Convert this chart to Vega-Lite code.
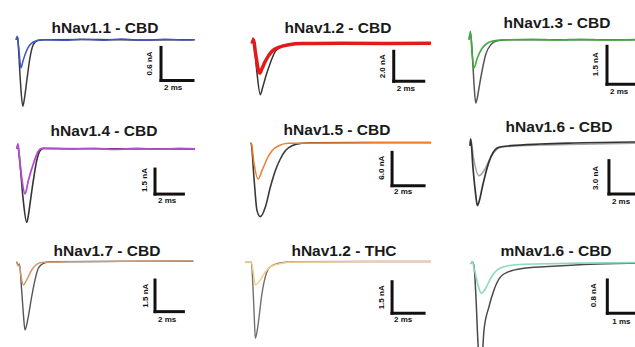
{
"$schema":"https://vega.github.io/schema/vega-lite/v6.json",
"padding":{"left":0,"top":15,"right":0,"bottom":0},
"background":"white",
"bounds":"flush",
"columns":3,
"spacing":{"row":18,"column":0},
"config":{"view":{"stroke":null},"title":{"font":"Liberation Sans","fontSize":15.5,"fontWeight":"bold","color":"#1a1a1a","offset":-3,"frame":"group","anchor":"middle"},"text":{"font":"Liberation Sans","fontSize":8,"fontWeight":"bold","color":"#111"}},
"datasets":{
"bars":[
{"panel":"p1","t0":9.0,"t1":11.0,"i0":-0.14,"i1":-0.74,"xlabel":"2 ms","ylabel":"0.6 nA"},
{"panel":"p2","t0":9.45,"t1":11.45,"i0":-0.52,"i1":-2.52,"xlabel":"2 ms","ylabel":"2.0 nA"},
{"panel":"p3","t0":8.625,"t1":10.625,"i0":-0.26,"i1":-1.76,"xlabel":"2 ms","ylabel":"1.5 nA"},
{"panel":"p4","t0":9.74,"t1":11.74,"i0":-1.2,"i1":-2.7,"xlabel":"2 ms","ylabel":"1.5 nA"},
{"panel":"p5","t0":8.86,"t1":10.86,"i0":-1.67,"i1":-7.67,"xlabel":"2 ms","ylabel":"6.0 nA"},
{"panel":"p6","t0":8.64,"t1":10.64,"i0":-1.59,"i1":-4.59,"xlabel":"2 ms","ylabel":"3.0 nA"},
{"panel":"p7","t0":9.74,"t1":11.74,"i0":-0.87,"i1":-2.37,"xlabel":"2 ms","ylabel":"1.5 nA"},
{"panel":"p8","t0":8.96,"t1":10.96,"i0":-0.95,"i1":-2.45,"xlabel":"2 ms","ylabel":"1.5 nA"},
{"panel":"p9","t0":4.22,"t1":5.22,"i0":-0.385,"i1":-1.185,"xlabel":"1 ms","ylabel":"0.8 nA"}
],
"traces":[
{"panel":"p1","series":"control","t":-0.06,"i":0},{"panel":"p1","series":"control","t":0.03,"i":0.06},{"panel":"p1","series":"control","t":0.09,"i":-0.15},{"panel":"p1","series":"control","t":0.22,"i":-0.79},{"panel":"p1","series":"control","t":0.36,"i":-1.21},{"panel":"p1","series":"control","t":0.47,"i":-1.06},{"panel":"p1","series":"control","t":0.61,"i":-0.75},{"panel":"p1","series":"control","t":0.81,"i":-0.33},{"panel":"p1","series":"control","t":1.02,"i":-0.09},{"panel":"p1","series":"control","t":1.31,"i":-0.01},{"panel":"p1","series":"control","t":1.75,"i":0},{"panel":"p1","series":"control","t":5,"i":0.005},{"panel":"p1","series":"control","t":8,"i":-0.005},{"panel":"p1","series":"control","t":11.1,"i":0},
{"panel":"p1","series":"drug","t":-0.06,"i":0},{"panel":"p1","series":"drug","t":0.03,"i":0.058},{"panel":"p1","series":"drug","t":0.11,"i":-0.15},{"panel":"p1","series":"drug","t":0.25,"i":-0.515},{"panel":"p1","series":"drug","t":0.375,"i":-0.387},{"panel":"p1","series":"drug","t":0.5,"i":-0.273},{"panel":"p1","series":"drug","t":0.81,"i":-0.091},{"panel":"p1","series":"drug","t":1.23,"i":-0.018},{"panel":"p1","series":"drug","t":1.75,"i":0},{"panel":"p1","series":"drug","t":3,"i":-0.012},{"panel":"p1","series":"drug","t":4,"i":0.01},{"panel":"p1","series":"drug","t":5.5,"i":-0.008},{"panel":"p1","series":"drug","t":6.5,"i":0.012},{"panel":"p1","series":"drug","t":8,"i":-0.01},{"panel":"p1","series":"drug","t":9.2,"i":0.01},{"panel":"p1","series":"drug","t":10.2,"i":-0.006},{"panel":"p1","series":"drug","t":11.1,"i":0},
{"panel":"p2","series":"control","t":0,"i":0},{"panel":"p2","series":"control","t":0.067,"i":0.37},{"panel":"p2","series":"control","t":0.167,"i":-0.3},{"panel":"p2","series":"control","t":0.333,"i":-1.97},{"panel":"p2","series":"control","t":0.553,"i":-3.41},{"panel":"p2","series":"control","t":0.7,"i":-2.97},{"panel":"p2","series":"control","t":0.887,"i":-2.3},{"panel":"p2","series":"control","t":1.22,"i":-1.3},{"panel":"p2","series":"control","t":1.553,"i":-0.52},{"panel":"p2","series":"control","t":2.0,"i":-0.187},{"panel":"p2","series":"control","t":2.667,"i":-0.033},{"panel":"p2","series":"control","t":3.667,"i":0},{"panel":"p2","series":"control","t":11.9,"i":0},
{"panel":"p2","series":"drug","t":0,"i":0},{"panel":"p2","series":"drug","t":0.1,"i":0.23},{"panel":"p2","series":"drug","t":0.233,"i":-0.633},{"panel":"p2","series":"drug","t":0.513,"i":-1.97},{"panel":"p2","series":"drug","t":0.667,"i":-1.667},{"panel":"p2","series":"drug","t":0.887,"i":-1.187},{"panel":"p2","series":"drug","t":1.333,"i":-0.52},{"panel":"p2","series":"drug","t":1.78,"i":-0.253},{"panel":"p2","series":"drug","t":2.447,"i":-0.08},{"panel":"p2","series":"drug","t":3.33,"i":0},{"panel":"p2","series":"drug","t":6,"i":0.01},{"panel":"p2","series":"drug","t":9,"i":0.0},{"panel":"p2","series":"drug","t":11.93,"i":0.01},
{"panel":"p3","series":"control","t":0,"i":0},{"panel":"p3","series":"control","t":0.106,"i":0.225},{"panel":"p3","series":"control","t":0.22,"i":-0.723},{"panel":"p3","series":"control","t":0.33,"i":-1.91},{"panel":"p3","series":"control","t":0.42,"i":-2.5},{"panel":"p3","series":"control","t":0.52,"i":-2.3},{"panel":"p3","series":"control","t":0.625,"i":-1.91},{"panel":"p3","series":"control","t":0.83,"i":-1.186},{"panel":"p3","series":"control","t":1.04,"i":-0.593},{"panel":"p3","series":"control","t":1.36,"i":-0.198},{"panel":"p3","series":"control","t":1.77,"i":-0.04},{"panel":"p3","series":"control","t":2.5,"i":0},{"panel":"p3","series":"control","t":10.9,"i":0},
{"panel":"p3","series":"drug","t":0,"i":0},{"panel":"p3","series":"drug","t":0.094,"i":0.33},{"panel":"p3","series":"drug","t":0.19,"i":-0.526},{"panel":"p3","series":"drug","t":0.31,"i":-1.12},{"panel":"p3","series":"drug","t":0.52,"i":-0.723},{"panel":"p3","series":"drug","t":0.83,"i":-0.328},{"panel":"p3","series":"drug","t":1.25,"i":-0.103},{"panel":"p3","series":"drug","t":1.77,"i":-0.024},{"panel":"p3","series":"drug","t":2.5,"i":0},{"panel":"p3","series":"drug","t":4,"i":0.015},{"panel":"p3","series":"drug","t":5.5,"i":-0.01},{"panel":"p3","series":"drug","t":7,"i":0.015},{"panel":"p3","series":"drug","t":8.5,"i":-0.01},{"panel":"p3","series":"drug","t":10.9,"i":0.01},
{"panel":"p4","series":"control","t":0,"i":0},{"panel":"p4","series":"control","t":0.09,"i":0.18},{"panel":"p4","series":"control","t":0.23,"i":-0.84},{"panel":"p4","series":"control","t":0.444,"i":-2.93},{"panel":"p4","series":"control","t":0.704,"i":-4.39},{"panel":"p4","series":"control","t":0.817,"i":-4.01},{"panel":"p4","series":"control","t":0.937,"i":-3.29},{"panel":"p4","series":"control","t":1.169,"i":-1.9},{"panel":"p4","series":"control","t":1.408,"i":-0.7},{"panel":"p4","series":"control","t":1.641,"i":-0.1},{"panel":"p4","series":"control","t":1.873,"i":0.04},{"panel":"p4","series":"control","t":2.345,"i":0.03},{"panel":"p4","series":"control","t":12.56,"i":0},
{"panel":"p4","series":"drug","t":0,"i":0},{"panel":"p4","series":"drug","t":0.09,"i":0.3},{"panel":"p4","series":"drug","t":0.197,"i":-0.54},{"panel":"p4","series":"drug","t":0.373,"i":-1.86},{"panel":"p4","series":"drug","t":0.585,"i":-2.69},{"panel":"p4","series":"drug","t":0.817,"i":-1.9},{"panel":"p4","series":"drug","t":1.169,"i":-0.9},{"panel":"p4","series":"drug","t":1.521,"i":-0.14},{"panel":"p4","series":"drug","t":1.761,"i":0.04},{"panel":"p4","series":"drug","t":2.345,"i":0.03},{"panel":"p4","series":"drug","t":4,"i":0},{"panel":"p4","series":"drug","t":5.5,"i":0.04},{"panel":"p4","series":"drug","t":7,"i":-0.02},{"panel":"p4","series":"drug","t":8.5,"i":0.03},{"panel":"p4","series":"drug","t":10,"i":-0.01},{"panel":"p4","series":"drug","t":11.5,"i":0.03},{"panel":"p4","series":"drug","t":12.56,"i":0},
{"panel":"p5","series":"control","t":0,"i":0},{"panel":"p5","series":"control","t":0.06,"i":-0.18},{"panel":"p5","series":"control","t":0.23,"i":-6.28},{"panel":"p5","series":"control","t":0.42,"i":-12.15},{"panel":"p5","series":"control","t":0.625,"i":-13.23},{"panel":"p5","series":"control","t":0.9375,"i":-11.54},{"panel":"p5","series":"control","t":1.25,"i":-7.95},{"panel":"p5","series":"control","t":1.5625,"i":-4.97},{"panel":"p5","series":"control","t":1.875,"i":-2.87},{"panel":"p5","series":"control","t":2.1875,"i":-1.38},{"panel":"p5","series":"control","t":2.606,"i":-0.485},{"panel":"p5","series":"control","t":3.23,"i":-0.054},{"panel":"p5","series":"control","t":3.856,"i":0.054},{"panel":"p5","series":"control","t":11.3,"i":0.09},
{"panel":"p5","series":"drug","t":0,"i":0},{"panel":"p5","series":"drug","t":0.075,"i":-0.18},{"panel":"p5","series":"drug","t":0.23,"i":-3.59},{"panel":"p5","series":"drug","t":0.48,"i":-6.46},{"panel":"p5","series":"drug","t":0.73,"i":-4.97},{"panel":"p5","series":"drug","t":1.04,"i":-2.87},{"panel":"p5","series":"drug","t":1.356,"i":-1.38},{"panel":"p5","series":"drug","t":1.775,"i":-0.485},{"panel":"p5","series":"drug","t":2.4,"i":-0.054},{"panel":"p5","series":"drug","t":11.3,"i":0.05},
{"panel":"p6","series":"control","t":-0.044,"i":-0.243},{"panel":"p6","series":"control","t":0,"i":0.36},{"panel":"p6","series":"control","t":0.144,"i":-2.25},{"panel":"p6","series":"control","t":0.3,"i":-4.5},{"panel":"p6","series":"control","t":0.4125,"i":-5.65},{"panel":"p6","series":"control","t":0.55,"i":-5.14},{"panel":"p6","series":"control","t":0.725,"i":-3.99},{"panel":"p6","series":"control","t":1.0375,"i":-2.19},{"panel":"p6","series":"control","t":1.35,"i":-0.99},{"panel":"p6","series":"control","t":1.77,"i":-0.387},{"panel":"p6","series":"control","t":2.5,"i":-0.243},{"panel":"p6","series":"control","t":4.375,"i":-0.09},{"panel":"p6","series":"control","t":6.456,"i":0},{"panel":"p6","series":"control","t":10.2,"i":0.09},{"panel":"p6","series":"control","t":10.8,"i":0.09},
{"panel":"p6","series":"drug","t":-0.044,"i":-0.243},{"panel":"p6","series":"drug","t":0,"i":0.36},{"panel":"p6","series":"drug","t":0.175,"i":-1.35},{"panel":"p6","series":"drug","t":0.52,"i":-2.95},{"panel":"p6","series":"drug","t":0.83,"i":-2.5},{"panel":"p6","series":"drug","t":1.144,"i":-1.59},{"panel":"p6","series":"drug","t":1.456,"i":-0.84},{"panel":"p6","series":"drug","t":1.875,"i":-0.387},{"panel":"p6","series":"drug","t":2.706,"i":-0.27},{"panel":"p6","series":"drug","t":5.394,"i":-0.153},{"panel":"p6","series":"drug","t":10.2,"i":-0.027},{"panel":"p6","series":"drug","t":10.8,"i":-0.02},
{"panel":"p7","series":"control","t":0,"i":0},{"panel":"p7","series":"control","t":0.113,"i":-0.156},{"panel":"p7","series":"control","t":0.197,"i":-0.109},{"panel":"p7","series":"control","t":0.338,"i":-1.246},{"panel":"p7","series":"control","t":0.465,"i":-2.43},{"panel":"p7","series":"control","t":0.585,"i":-3.24},{"panel":"p7","series":"control","t":0.704,"i":-3.0},{"panel":"p7","series":"control","t":0.817,"i":-2.61},{"panel":"p7","series":"control","t":1.056,"i":-1.66},{"panel":"p7","series":"control","t":1.289,"i":-0.867},{"panel":"p7","series":"control","t":1.521,"i":-0.313},{"panel":"p7","series":"control","t":1.873,"i":-0.076},{"panel":"p7","series":"control","t":2.345,"i":0},{"panel":"p7","series":"control","t":12.44,"i":0.033},
{"panel":"p7","series":"drug","t":0,"i":0},{"panel":"p7","series":"drug","t":0.113,"i":-0.204},{"panel":"p7","series":"drug","t":0.197,"i":-0.156},{"panel":"p7","series":"drug","t":0.303,"i":-0.678},{"panel":"p7","series":"drug","t":0.465,"i":-1.1},{"panel":"p7","series":"drug","t":0.704,"i":-0.867},{"panel":"p7","series":"drug","t":1.056,"i":-0.393},{"panel":"p7","series":"drug","t":1.408,"i":-0.123},{"panel":"p7","series":"drug","t":1.873,"i":-0.028},{"panel":"p7","series":"drug","t":12.44,"i":0.047},
{"panel":"p8","series":"control","t":-0.2125,"i":0},{"panel":"p8","series":"control","t":0.1625,"i":0},{"panel":"p8","series":"control","t":0.269,"i":-1.246},{"panel":"p8","series":"control","t":0.35,"i":-2.67},{"panel":"p8","series":"control","t":0.4125,"i":-3.63},{"panel":"p8","series":"control","t":0.506,"i":-3.38},{"panel":"p8","series":"control","t":0.625,"i":-2.76},{"panel":"p8","series":"control","t":0.83,"i":-1.5},{"panel":"p8","series":"control","t":1.04,"i":-0.71},{"panel":"p8","series":"control","t":1.35,"i":-0.237},{"panel":"p8","series":"control","t":1.875,"i":-0.076},{"panel":"p8","series":"control","t":2.706,"i":0},{"panel":"p8","series":"control","t":11.39,"i":0.01},
{"panel":"p8","series":"drug","t":-0.2125,"i":0},{"panel":"p8","series":"drug","t":0.1625,"i":0},{"panel":"p8","series":"drug","t":0.2875,"i":-0.536},{"panel":"p8","series":"drug","t":0.4125,"i":-1.1},{"panel":"p8","series":"drug","t":0.725,"i":-0.867},{"panel":"p8","series":"drug","t":1.04,"i":-0.474},{"panel":"p8","series":"drug","t":1.456,"i":-0.204},{"panel":"p8","series":"drug","t":2.08,"i":-0.076},{"panel":"p8","series":"drug","t":2.9125,"i":-0.014},{"panel":"p8","series":"drug","t":11.39,"i":0.01},
{"panel":"p9","series":"control","t":-0.04,"i":0},{"panel":"p9","series":"control","t":0,"i":0.055},{"panel":"p9","series":"control","t":0.053,"i":-0.048},{"panel":"p9","series":"control","t":0.116,"i":-0.817},{"panel":"p9","series":"control","t":0.178,"i":-1.9},{"panel":"p9","series":"control","t":0.256,"i":-2.45},{"panel":"p9","series":"control","t":0.319,"i":-2.14},{"panel":"p9","series":"control","t":0.366,"i":-1.587},{"panel":"p9","series":"control","t":0.522,"i":-1.026},{"panel":"p9","series":"control","t":0.678,"i":-0.625},{"panel":"p9","series":"control","t":0.8875,"i":-0.305},{"panel":"p9","series":"control","t":1.147,"i":-0.185},{"panel":"p9","series":"control","t":1.616,"i":-0.103},{"panel":"p9","series":"control","t":2.656,"i":-0.048},{"panel":"p9","series":"control","t":3.7,"i":-0.007},{"panel":"p9","series":"control","t":5.053,"i":0.017},{"panel":"p9","series":"control","t":5.3,"i":0.02},
{"panel":"p9","series":"drug","t":-0.04,"i":0},{"panel":"p9","series":"drug","t":0,"i":0.055},{"panel":"p9","series":"drug","t":0.069,"i":-0.144},{"panel":"p9","series":"drug","t":0.178,"i":-0.505},{"panel":"p9","series":"drug","t":0.281,"i":-0.704},{"panel":"p9","series":"drug","t":0.419,"i":-0.584},{"panel":"p9","series":"drug","t":0.575,"i":-0.344},{"panel":"p9","series":"drug","t":0.78,"i":-0.144},{"panel":"p9","series":"drug","t":1.094,"i":-0.048},{"panel":"p9","series":"drug","t":1.616,"i":-0.007},{"panel":"p9","series":"drug","t":5.053,"i":0.031},{"panel":"p9","series":"drug","t":5.3,"i":0.03}
]},
"concat":[
{"title":{"text":"hNav1.1 - CBD","dx":-1},"width":212,"height":91,"layer":[
{"data":{"name":"traces"},"transform":[{"filter":{"and":[{"field":"panel","equal":"p1"},{"field":"series","equal":"control"}]}}],"mark":{"type":"line","interpolate":"monotone","color":"#3a3a3a","strokeWidth":1.5},"encoding":{"x":{"field":"t","type":"quantitative","scale":{"domain":[-1.0625,12.1875],"nice":false,"zero":false},"axis":null},"y":{"field":"i","type":"quantitative","scale":{"domain":[-1.533,0.122],"nice":false,"zero":false},"axis":null}}},
{"data":{"name":"traces"},"transform":[{"filter":{"and":[{"field":"panel","equal":"p1"},{"field":"series","equal":"drug"}]}}],"mark":{"type":"line","interpolate":"monotone","color":"#3f55c9","strokeWidth":1.5},"encoding":{"x":{"field":"t","type":"quantitative"},"y":{"field":"i","type":"quantitative"}}},
{"data":{"name":"bars"},"transform":[{"filter":{"field":"panel","equal":"p1"}}],"mark":{"type":"rule","strokeWidth":3,"color":"#111","strokeCap":"square"},"encoding":{"x":{"field":"t0","type":"quantitative"},"y":{"field":"i0","type":"quantitative"},"y2":{"field":"i1"}}},
{"data":{"name":"bars"},"transform":[{"filter":{"field":"panel","equal":"p1"}}],"mark":{"type":"rule","strokeWidth":3,"color":"#111","strokeCap":"square"},"encoding":{"x":{"field":"t0","type":"quantitative"},"x2":{"field":"t1"},"y":{"field":"i1","type":"quantitative"}}},
{"data":{"name":"bars"},"transform":[{"filter":{"field":"panel","equal":"p1"}}],"mark":{"type":"text","angle":270,"align":"left","baseline":"middle","dx":5,"dy":-11},"encoding":{"x":{"field":"t0","type":"quantitative"},"y":{"field":"i1","type":"quantitative"},"text":{"field":"ylabel"}}},
{"data":{"name":"bars"},"transform":[{"filter":{"field":"panel","equal":"p1"}}],"mark":{"type":"text","align":"left","baseline":"middle","dx":3,"dy":8},"encoding":{"x":{"field":"t0","type":"quantitative"},"y":{"field":"i1","type":"quantitative"},"text":{"field":"xlabel"}}}
]},
{"title":{"text":"hNav1.2 - CBD","dx":20},"width":212,"height":91,"layer":[
{"data":{"name":"traces"},"transform":[{"filter":{"and":[{"field":"panel","equal":"p2"},{"field":"series","equal":"control"}]}}],"mark":{"type":"line","interpolate":"monotone","color":"#333333","strokeWidth":1.5},"encoding":{"x":{"field":"t","type":"quantitative","scale":{"domain":[-2.667,11.467],"nice":false,"zero":false},"axis":null},"y":{"field":"i","type":"quantitative","scale":{"domain":[-5.367,0.7],"nice":false,"zero":false},"axis":null}}},
{"data":{"name":"traces"},"transform":[{"filter":{"and":[{"field":"panel","equal":"p2"},{"field":"series","equal":"drug"}]}}],"mark":{"type":"line","interpolate":"monotone","color":"#e31a1c","strokeWidth":3.5},"encoding":{"x":{"field":"t","type":"quantitative"},"y":{"field":"i","type":"quantitative"}}},
{"data":{"name":"bars"},"transform":[{"filter":{"field":"panel","equal":"p2"}}],"mark":{"type":"rule","strokeWidth":3,"color":"#111","strokeCap":"square"},"encoding":{"x":{"field":"t0","type":"quantitative"},"y":{"field":"i0","type":"quantitative"},"y2":{"field":"i1"}}},
{"data":{"name":"bars"},"transform":[{"filter":{"field":"panel","equal":"p2"}}],"mark":{"type":"rule","strokeWidth":3,"color":"#111","strokeCap":"square"},"encoding":{"x":{"field":"t0","type":"quantitative"},"x2":{"field":"t1"},"y":{"field":"i1","type":"quantitative"}}},
{"data":{"name":"bars"},"transform":[{"filter":{"field":"panel","equal":"p2"}}],"mark":{"type":"text","angle":270,"align":"left","baseline":"middle","dx":3,"dy":-11},"encoding":{"x":{"field":"t0","type":"quantitative"},"y":{"field":"i1","type":"quantitative"},"text":{"field":"ylabel"}}},
{"data":{"name":"bars"},"transform":[{"filter":{"field":"panel","equal":"p2"}}],"mark":{"type":"text","align":"left","baseline":"middle","dx":3,"dy":8},"encoding":{"x":{"field":"t0","type":"quantitative"},"y":{"field":"i1","type":"quantitative"},"text":{"field":"xlabel"}}}
]},
{"title":{"text":"hNav1.3 - CBD","dx":27},"width":212,"height":91,"layer":[
{"data":{"name":"traces"},"transform":[{"filter":{"and":[{"field":"panel","equal":"p3"},{"field":"series","equal":"control"}]}}],"mark":{"type":"line","interpolate":"monotone","color":"#555555","strokeWidth":1.5},"encoding":{"x":{"field":"t","type":"quantitative","scale":{"domain":[-2.8125,10.4375],"nice":false,"zero":false},"axis":null},"y":{"field":"i","type":"quantitative","scale":{"domain":[-3.33,0.265],"nice":false,"zero":false},"axis":null}}},
{"data":{"name":"traces"},"transform":[{"filter":{"and":[{"field":"panel","equal":"p3"},{"field":"series","equal":"drug"}]}}],"mark":{"type":"line","interpolate":"monotone","color":"#3dab3d","strokeWidth":1.6},"encoding":{"x":{"field":"t","type":"quantitative"},"y":{"field":"i","type":"quantitative"}}},
{"data":{"name":"bars"},"transform":[{"filter":{"field":"panel","equal":"p3"}}],"mark":{"type":"rule","strokeWidth":3,"color":"#111","strokeCap":"square"},"encoding":{"x":{"field":"t0","type":"quantitative"},"y":{"field":"i0","type":"quantitative"},"y2":{"field":"i1"}}},
{"data":{"name":"bars"},"transform":[{"filter":{"field":"panel","equal":"p3"}}],"mark":{"type":"rule","strokeWidth":3,"color":"#111","strokeCap":"square"},"encoding":{"x":{"field":"t0","type":"quantitative"},"x2":{"field":"t1"},"y":{"field":"i1","type":"quantitative"}}},
{"data":{"name":"bars"},"transform":[{"filter":{"field":"panel","equal":"p3"}}],"mark":{"type":"text","angle":270,"align":"left","baseline":"middle","dx":8,"dy":-11},"encoding":{"x":{"field":"t0","type":"quantitative"},"y":{"field":"i1","type":"quantitative"},"text":{"field":"ylabel"}}},
{"data":{"name":"bars"},"transform":[{"filter":{"field":"panel","equal":"p3"}}],"mark":{"type":"text","align":"left","baseline":"middle","dx":3,"dy":8},"encoding":{"x":{"field":"t0","type":"quantitative"},"y":{"field":"i1","type":"quantitative"},"text":{"field":"xlabel"}}}
]},
{"title":{"text":"hNav1.4 - CBD","dx":-2,"dy":-3.5},"width":212,"height":96,"layer":[
{"data":{"name":"traces"},"transform":[{"filter":{"and":[{"field":"panel","equal":"p4"},{"field":"series","equal":"control"}]}}],"mark":{"type":"line","interpolate":"monotone","color":"#333333","strokeWidth":1.6},"encoding":{"x":{"field":"t","type":"quantitative","scale":{"domain":[-1.176,13.754],"nice":false,"zero":false},"axis":null},"y":{"field":"i","type":"quantitative","scale":{"domain":[-5.33,0.42],"nice":false,"zero":false},"axis":null}}},
{"data":{"name":"traces"},"transform":[{"filter":{"and":[{"field":"panel","equal":"p4"},{"field":"series","equal":"drug"}]}}],"mark":{"type":"line","interpolate":"monotone","color":"#b24dcf","strokeWidth":1.8},"encoding":{"x":{"field":"t","type":"quantitative"},"y":{"field":"i","type":"quantitative"}}},
{"data":{"name":"bars"},"transform":[{"filter":{"field":"panel","equal":"p4"}}],"mark":{"type":"rule","strokeWidth":3,"color":"#111","strokeCap":"square"},"encoding":{"x":{"field":"t0","type":"quantitative"},"y":{"field":"i0","type":"quantitative"},"y2":{"field":"i1"}}},
{"data":{"name":"bars"},"transform":[{"filter":{"field":"panel","equal":"p4"}}],"mark":{"type":"rule","strokeWidth":3,"color":"#111","strokeCap":"square"},"encoding":{"x":{"field":"t0","type":"quantitative"},"x2":{"field":"t1"},"y":{"field":"i1","type":"quantitative"}}},
{"data":{"name":"bars"},"transform":[{"filter":{"field":"panel","equal":"p4"}}],"mark":{"type":"text","angle":270,"align":"left","baseline":"middle","dx":2,"dy":-10},"encoding":{"x":{"field":"t0","type":"quantitative"},"y":{"field":"i1","type":"quantitative"},"text":{"field":"ylabel"}}},
{"data":{"name":"bars"},"transform":[{"filter":{"field":"panel","equal":"p4"}}],"mark":{"type":"text","align":"left","baseline":"middle","dx":3,"dy":7},"encoding":{"x":{"field":"t0","type":"quantitative"},"y":{"field":"i1","type":"quantitative"},"text":{"field":"xlabel"}}}
]},
{"title":{"text":"hNav1.5 - CBD","dx":19,"dy":-3.5},"width":212,"height":96,"layer":[
{"data":{"name":"traces"},"transform":[{"filter":{"and":[{"field":"panel","equal":"p5"},{"field":"series","equal":"control"}]}}],"mark":{"type":"line","interpolate":"monotone","color":"#3a3a3a","strokeWidth":1.6},"encoding":{"x":{"field":"t","type":"quantitative","scale":{"domain":[-2.394,10.856],"nice":false,"zero":false},"axis":null},"y":{"field":"i","type":"quantitative","scale":{"domain":[-17.06,0.18],"nice":false,"zero":false},"axis":null}}},
{"data":{"name":"traces"},"transform":[{"filter":{"and":[{"field":"panel","equal":"p5"},{"field":"series","equal":"drug"}]}}],"mark":{"type":"line","interpolate":"monotone","color":"#f07e2c","strokeWidth":1.5},"encoding":{"x":{"field":"t","type":"quantitative"},"y":{"field":"i","type":"quantitative"}}},
{"data":{"name":"bars"},"transform":[{"filter":{"field":"panel","equal":"p5"}}],"mark":{"type":"rule","strokeWidth":3,"color":"#111","strokeCap":"square"},"encoding":{"x":{"field":"t0","type":"quantitative"},"y":{"field":"i0","type":"quantitative"},"y2":{"field":"i1"}}},
{"data":{"name":"bars"},"transform":[{"filter":{"field":"panel","equal":"p5"}}],"mark":{"type":"rule","strokeWidth":3,"color":"#111","strokeCap":"square"},"encoding":{"x":{"field":"t0","type":"quantitative"},"x2":{"field":"t1"},"y":{"field":"i1","type":"quantitative"}}},
{"data":{"name":"bars"},"transform":[{"filter":{"field":"panel","equal":"p5"}}],"mark":{"type":"text","angle":270,"align":"left","baseline":"middle","dx":6,"dy":-10},"encoding":{"x":{"field":"t0","type":"quantitative"},"y":{"field":"i1","type":"quantitative"},"text":{"field":"ylabel"}}},
{"data":{"name":"bars"},"transform":[{"filter":{"field":"panel","equal":"p5"}}],"mark":{"type":"text","align":"left","baseline":"middle","dx":2,"dy":6},"encoding":{"x":{"field":"t0","type":"quantitative"},"y":{"field":"i1","type":"quantitative"},"text":{"field":"xlabel"}}}
]},
{"title":{"text":"hNav1.6 - CBD","dx":29,"dy":-3.5},"width":212,"height":96,"layer":[
{"data":{"name":"traces"},"transform":[{"filter":{"and":[{"field":"panel","equal":"p6"},{"field":"series","equal":"drug"}]}}],"mark":{"type":"line","interpolate":"monotone","color":"#a6a6a6","strokeWidth":1.6},"encoding":{"x":{"field":"t","type":"quantitative","scale":{"domain":[-2.919,10.331],"nice":false,"zero":false},"axis":null},"y":{"field":"i","type":"quantitative","scale":{"domain":[-8.56,0.09],"nice":false,"zero":false},"axis":null}}},
{"data":{"name":"traces"},"transform":[{"filter":{"and":[{"field":"panel","equal":"p6"},{"field":"series","equal":"control"}]}}],"mark":{"type":"line","interpolate":"monotone","color":"#333333","strokeWidth":1.7},"encoding":{"x":{"field":"t","type":"quantitative"},"y":{"field":"i","type":"quantitative"}}},
{"data":{"name":"bars"},"transform":[{"filter":{"field":"panel","equal":"p6"}}],"mark":{"type":"rule","strokeWidth":3,"color":"#111","strokeCap":"square"},"encoding":{"x":{"field":"t0","type":"quantitative"},"y":{"field":"i0","type":"quantitative"},"y2":{"field":"i1"}}},
{"data":{"name":"bars"},"transform":[{"filter":{"field":"panel","equal":"p6"}}],"mark":{"type":"rule","strokeWidth":3,"color":"#111","strokeCap":"square"},"encoding":{"x":{"field":"t0","type":"quantitative"},"x2":{"field":"t1"},"y":{"field":"i1","type":"quantitative"}}},
{"data":{"name":"bars"},"transform":[{"filter":{"field":"panel","equal":"p6"}}],"mark":{"type":"text","angle":270,"align":"left","baseline":"middle","dx":4,"dy":-13},"encoding":{"x":{"field":"t0","type":"quantitative"},"y":{"field":"i1","type":"quantitative"},"text":{"field":"ylabel"}}},
{"data":{"name":"bars"},"transform":[{"filter":{"field":"panel","equal":"p6"}}],"mark":{"type":"text","align":"left","baseline":"middle","dx":3,"dy":8},"encoding":{"x":{"field":"t0","type":"quantitative"},"y":{"field":"i1","type":"quantitative"},"text":{"field":"xlabel"}}}
]},
{"title":{"text":"hNav1.7 - CBD","dx":1},"width":212,"height":90,"layer":[
{"data":{"name":"traces"},"transform":[{"filter":{"and":[{"field":"panel","equal":"p7"},{"field":"series","equal":"control"}]}}],"mark":{"type":"line","interpolate":"monotone","color":"#555555","strokeWidth":1.4},"encoding":{"x":{"field":"t","type":"quantitative","scale":{"domain":[-1.176,13.754],"nice":false,"zero":false},"axis":null},"y":{"field":"i","type":"quantitative","scale":{"domain":[-4.0,0.27],"nice":false,"zero":false},"axis":null}}},
{"data":{"name":"traces"},"transform":[{"filter":{"and":[{"field":"panel","equal":"p7"},{"field":"series","equal":"drug"}]}}],"mark":{"type":"line","interpolate":"monotone","color":"#d39a70","strokeWidth":1.5},"encoding":{"x":{"field":"t","type":"quantitative"},"y":{"field":"i","type":"quantitative"}}},
{"data":{"name":"bars"},"transform":[{"filter":{"field":"panel","equal":"p7"}}],"mark":{"type":"rule","strokeWidth":3,"color":"#111","strokeCap":"square"},"encoding":{"x":{"field":"t0","type":"quantitative"},"y":{"field":"i0","type":"quantitative"},"y2":{"field":"i1"}}},
{"data":{"name":"bars"},"transform":[{"filter":{"field":"panel","equal":"p7"}}],"mark":{"type":"rule","strokeWidth":3,"color":"#111","strokeCap":"square"},"encoding":{"x":{"field":"t0","type":"quantitative"},"x2":{"field":"t1"},"y":{"field":"i1","type":"quantitative"}}},
{"data":{"name":"bars"},"transform":[{"filter":{"field":"panel","equal":"p7"}}],"mark":{"type":"text","angle":270,"align":"left","baseline":"middle","dx":4,"dy":-9},"encoding":{"x":{"field":"t0","type":"quantitative"},"y":{"field":"i1","type":"quantitative"},"text":{"field":"ylabel"}}},
{"data":{"name":"bars"},"transform":[{"filter":{"field":"panel","equal":"p7"}}],"mark":{"type":"text","align":"left","baseline":"middle","dx":3,"dy":8},"encoding":{"x":{"field":"t0","type":"quantitative"},"y":{"field":"i1","type":"quantitative"},"text":{"field":"xlabel"}}}
]},
{"title":{"text":"hNav1.2 - THC","dx":26},"width":212,"height":90,"layer":[
{"data":{"name":"traces"},"transform":[{"filter":{"and":[{"field":"panel","equal":"p8"},{"field":"series","equal":"control"}]}}],"mark":{"type":"line","interpolate":"monotone","color":"#707070","strokeWidth":1.4},"encoding":{"x":{"field":"t","type":"quantitative","scale":{"domain":[-2.294,10.956],"nice":false,"zero":false},"axis":null},"y":{"field":"i","type":"quantitative","scale":{"domain":[-4.0,0.27],"nice":false,"zero":false},"axis":null}}},
{"data":{"name":"traces"},"transform":[{"filter":{"and":[{"field":"panel","equal":"p8"},{"field":"series","equal":"drug"}]}}],"mark":{"type":"line","interpolate":"monotone","color":"#f2cf8c","strokeWidth":1.5},"encoding":{"x":{"field":"t","type":"quantitative"},"y":{"field":"i","type":"quantitative"}}},
{"data":{"name":"bars"},"transform":[{"filter":{"field":"panel","equal":"p8"}}],"mark":{"type":"rule","strokeWidth":3,"color":"#111","strokeCap":"square"},"encoding":{"x":{"field":"t0","type":"quantitative"},"y":{"field":"i0","type":"quantitative"},"y2":{"field":"i1"}}},
{"data":{"name":"bars"},"transform":[{"filter":{"field":"panel","equal":"p8"}}],"mark":{"type":"rule","strokeWidth":3,"color":"#111","strokeCap":"square"},"encoding":{"x":{"field":"t0","type":"quantitative"},"x2":{"field":"t1"},"y":{"field":"i1","type":"quantitative"}}},
{"data":{"name":"bars"},"transform":[{"filter":{"field":"panel","equal":"p8"}}],"mark":{"type":"text","angle":270,"align":"left","baseline":"middle","dx":4,"dy":-10},"encoding":{"x":{"field":"t0","type":"quantitative"},"y":{"field":"i1","type":"quantitative"},"text":{"field":"ylabel"}}},
{"data":{"name":"bars"},"transform":[{"filter":{"field":"panel","equal":"p8"}}],"mark":{"type":"text","align":"left","baseline":"middle","dx":2,"dy":7},"encoding":{"x":{"field":"t0","type":"quantitative"},"y":{"field":"i1","type":"quantitative"},"text":{"field":"xlabel"}}}
]},
{"title":{"text":"mNav1.6 - CBD","dx":26},"width":212,"height":90,"layer":[
{"data":{"name":"traces"},"transform":[{"filter":{"and":[{"field":"panel","equal":"p9"},{"field":"series","equal":"control"}]}}],"mark":{"type":"line","interpolate":"monotone","color":"#4a4a4a","strokeWidth":1.5},"encoding":{"x":{"field":"t","type":"quantitative","scale":{"domain":[-1.509,5.116],"nice":false,"zero":false},"axis":null},"y":{"field":"i","type":"quantitative","scale":{"domain":[-1.97,0.19],"nice":false,"zero":false},"axis":null}}},
{"data":{"name":"traces"},"transform":[{"filter":{"and":[{"field":"panel","equal":"p9"},{"field":"series","equal":"drug"}]}}],"mark":{"type":"line","interpolate":"monotone","color":"#8fd8bf","strokeWidth":1.6},"encoding":{"x":{"field":"t","type":"quantitative"},"y":{"field":"i","type":"quantitative"}}},
{"data":{"name":"bars"},"transform":[{"filter":{"field":"panel","equal":"p9"}}],"mark":{"type":"rule","strokeWidth":3,"color":"#111","strokeCap":"square"},"encoding":{"x":{"field":"t0","type":"quantitative"},"y":{"field":"i0","type":"quantitative"},"y2":{"field":"i1"}}},
{"data":{"name":"bars"},"transform":[{"filter":{"field":"panel","equal":"p9"}}],"mark":{"type":"rule","strokeWidth":3,"color":"#111","strokeCap":"square"},"encoding":{"x":{"field":"t0","type":"quantitative"},"x2":{"field":"t1"},"y":{"field":"i1","type":"quantitative"}}},
{"data":{"name":"bars"},"transform":[{"filter":{"field":"panel","equal":"p9"}}],"mark":{"type":"text","angle":270,"align":"left","baseline":"middle","dx":6,"dy":-13},"encoding":{"x":{"field":"t0","type":"quantitative"},"y":{"field":"i1","type":"quantitative"},"text":{"field":"ylabel"}}},
{"data":{"name":"bars"},"transform":[{"filter":{"field":"panel","equal":"p9"}}],"mark":{"type":"text","align":"left","baseline":"middle","dx":5,"dy":9},"encoding":{"x":{"field":"t0","type":"quantitative"},"y":{"field":"i1","type":"quantitative"},"text":{"field":"xlabel"}}}
]}
]
}
